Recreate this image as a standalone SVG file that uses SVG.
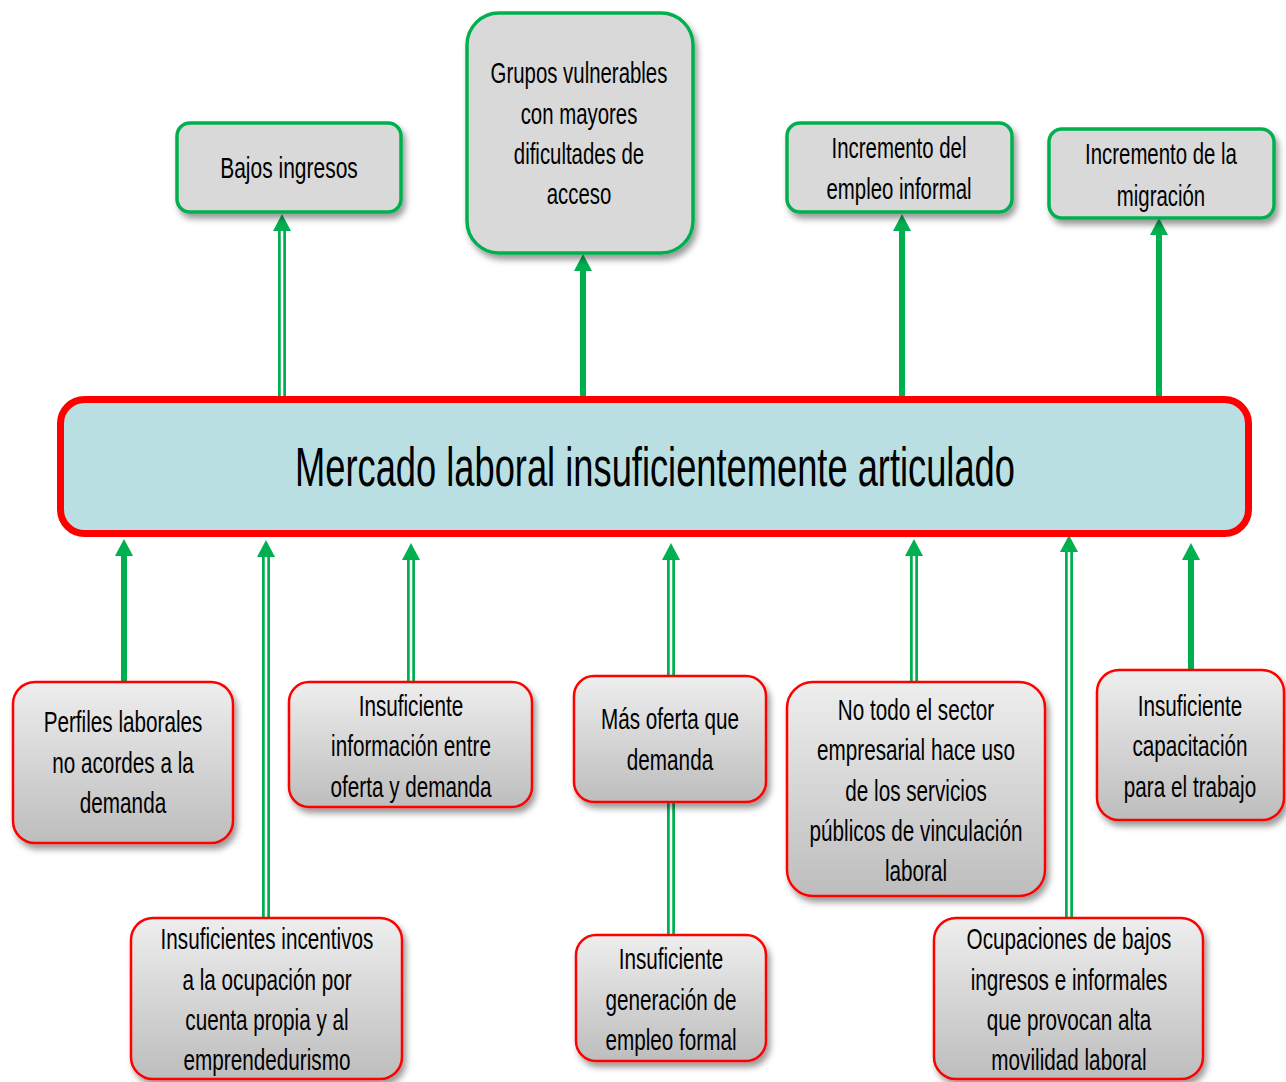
<svg xmlns="http://www.w3.org/2000/svg" width="1286" height="1082" viewBox="0 0 1286 1082">
<defs>
  <filter id="sh" x="-10%" y="-10%" width="125%" height="130%">
    <feDropShadow dx="3" dy="5" stdDeviation="3" flood-color="#000" flood-opacity="0.4"/>
  </filter>
  <linearGradient id="gr" x1="0" y1="0" x2="0" y2="1">
    <stop offset="0" stop-color="#eeeeee"/>
    <stop offset="1" stop-color="#bdbdbd"/>
  </linearGradient>
  <marker id="ah" viewBox="0 0 18 17" refX="9" refY="0" markerUnits="userSpaceOnUse" markerWidth="18" markerHeight="17" orient="auto-start-reverse">
    <path d="M0,17 L9,0 L18,17 Z" fill="#00b050"/>
  </marker>
</defs>
<style>
  .eff { fill:#d9d9d9; stroke:#00b050; stroke-width:3.5; filter:url(#sh); }
  .cause { fill:url(#gr); stroke:#ff0000; stroke-width:2.5; filter:url(#sh); }
  .core { fill:#b9dfe3; stroke:#ff0000; stroke-width:7; }
  .t { font-family:"Liberation Sans", Arial, sans-serif; font-size:30px; fill:#000; text-anchor:middle; }
  .tc { font-family:"Liberation Sans", Arial, sans-serif; font-size:56px; fill:#000; text-anchor:middle; }
  .solid { stroke:#00b050; stroke-width:6; fill:none; }
  .dbl { stroke:#00b050; stroke-width:8; fill:none; }
  .dbli { stroke:#ffffff; stroke-width:2.5; fill:none; }
  .hd { fill:#00b050; }
</style>

<g id="connectors">
  <!-- top effects -->
  <line class="dbl" x1="282" y1="398" x2="282" y2="228"/>
  <line class="dbli" x1="282" y1="398" x2="282" y2="230"/>
  <path class="hd" d="M273,231 L282,214 L291,231 Z"/>

  <line class="solid" x1="583" y1="398" x2="583" y2="268"/>
  <path class="hd" d="M574,271 L583,254 L592,271 Z"/>

  <line class="solid" x1="902" y1="398" x2="902" y2="228"/>
  <path class="hd" d="M893,231 L902,214 L911,231 Z"/>

  <line class="solid" x1="1159" y1="398" x2="1159" y2="232"/>
  <path class="hd" d="M1150,235 L1159,218 L1168,235 Z"/>

  <!-- bottom causes -->
  <line class="solid" x1="124" y1="683" x2="124" y2="553"/>
  <path class="hd" d="M115,556 L124,539 L133,556 Z"/>

  <line class="dbl" x1="266" y1="919" x2="266" y2="554"/>
  <line class="dbli" x1="266" y1="919" x2="266" y2="556"/>
  <path class="hd" d="M257,557 L266,540 L275,557 Z"/>

  <line class="dbl" x1="411" y1="683" x2="411" y2="557"/>
  <line class="dbli" x1="411" y1="681" x2="411" y2="559"/>
  <path class="hd" d="M402,560 L411,543 L420,560 Z"/>

  <line class="dbl" x1="671" y1="936" x2="671" y2="557"/>
  <line class="dbli" x1="671" y1="934" x2="671" y2="559"/>
  <path class="hd" d="M662,560 L671,543 L680,560 Z"/>

  <line class="dbl" x1="914" y1="683" x2="914" y2="553"/>
  <line class="dbli" x1="914" y1="681" x2="914" y2="555"/>
  <path class="hd" d="M905,556 L914,539 L923,556 Z"/>

  <line class="dbl" x1="1069" y1="919" x2="1069" y2="549"/>
  <line class="dbli" x1="1069" y1="917" x2="1069" y2="551"/>
  <path class="hd" d="M1060,552 L1069,535 L1078,552 Z"/>

  <line class="solid" x1="1191" y1="671" x2="1191" y2="557"/>
  <path class="hd" d="M1182,560 L1191,543 L1200,560 Z"/>
</g>

<g id="core">
  <rect class="core" x="60.5" y="399.5" width="1188" height="134" rx="24"/>
  <text class="tc" transform="translate(655,486) scale(0.648,1)">Mercado laboral insuficientemente articulado</text>
</g>

<g id="e1">
  <rect class="eff" x="177" y="123" width="224" height="89" rx="13"/>
  <text class="t" transform="translate(289,178) scale(0.7,1)">Bajos ingresos</text>
</g>
<g id="e2">
  <rect class="eff" x="467" y="13" width="226" height="240" rx="32"/>
  <text class="t" transform="translate(579,83) scale(0.68,1)"><tspan x="0" y="0">Grupos vulnerables</tspan><tspan x="0" y="41">con mayores</tspan><tspan x="0" y="81">dificultades de</tspan><tspan x="0" y="121">acceso</tspan></text>
</g>
<g id="e3">
  <rect class="eff" x="787" y="123" width="225" height="89" rx="13"/>
  <text class="t" transform="translate(899,158) scale(0.68,1)"><tspan x="0" y="0">Incremento del</tspan><tspan x="0" y="41">empleo informal</tspan></text>
</g>
<g id="e4">
  <rect class="eff" x="1049" y="129" width="225" height="89" rx="13"/>
  <text class="t" transform="translate(1161,164) scale(0.68,1)"><tspan x="0" y="0">Incremento de la</tspan><tspan x="0" y="42">migración</tspan></text>
</g>

<g id="c1">
  <rect class="cause" x="13" y="682" width="220" height="161" rx="22"/>
  <text class="t" transform="translate(123,732) scale(0.69,1)"><tspan x="0" y="0">Perfiles laborales</tspan><tspan x="0" y="41">no acordes a la</tspan><tspan x="0" y="81">demanda</tspan></text>
</g>
<g id="c2">
  <rect class="cause" x="289" y="682" width="243" height="125" rx="20"/>
  <text class="t" transform="translate(411,716) scale(0.69,1)"><tspan x="0" y="0">Insuficiente</tspan><tspan x="0" y="40">información entre</tspan><tspan x="0" y="81">oferta y demanda</tspan></text>
</g>
<g id="c3">
  <rect class="cause" x="574" y="676" width="192" height="126" rx="20"/>
  <text class="t" transform="translate(670,729) scale(0.69,1)"><tspan x="0" y="0">Más oferta que</tspan><tspan x="0" y="41">demanda</tspan></text>
</g>
<g id="c4">
  <rect class="cause" x="787" y="682" width="258" height="214" rx="26"/>
  <text class="t" transform="translate(916,720) scale(0.69,1)"><tspan x="0" y="0">No todo el sector</tspan><tspan x="0" y="40">empresarial hace uso</tspan><tspan x="0" y="81">de los servicios</tspan><tspan x="0" y="121">públicos de vinculación</tspan><tspan x="0" y="161">laboral</tspan></text>
</g>
<g id="c5">
  <rect class="cause" x="1097" y="670" width="187" height="150" rx="22"/>
  <text class="t" transform="translate(1190,716) scale(0.69,1)"><tspan x="0" y="0">Insuficiente</tspan><tspan x="0" y="40">capacitación</tspan><tspan x="0" y="81">para el trabajo</tspan></text>
</g>
<g id="c6">
  <rect class="cause" x="131" y="918" width="271" height="161" rx="22"/>
  <text class="t" transform="translate(267,949) scale(0.69,1)"><tspan x="0" y="0">Insuficientes  incentivos</tspan><tspan x="0" y="41">a la ocupación  por</tspan><tspan x="0" y="81">cuenta  propia y al</tspan><tspan x="0" y="121">emprendedurismo</tspan></text>
</g>
<g id="c7">
  <rect class="cause" x="576" y="935" width="190" height="126" rx="20"/>
  <text class="t" transform="translate(671,969) scale(0.69,1)"><tspan x="0" y="0">Insuficiente</tspan><tspan x="0" y="41">generación  de</tspan><tspan x="0" y="81">empleo formal</tspan></text>
</g>
<g id="c8">
  <rect class="cause" x="934" y="918" width="269" height="161" rx="22"/>
  <text class="t" transform="translate(1069,949) scale(0.69,1)"><tspan x="0" y="0">Ocupaciones  de bajos</tspan><tspan x="0" y="41">ingresos e informales</tspan><tspan x="0" y="81">que provocan alta</tspan><tspan x="0" y="121">movilidad laboral</tspan></text>
</g>
</svg>
